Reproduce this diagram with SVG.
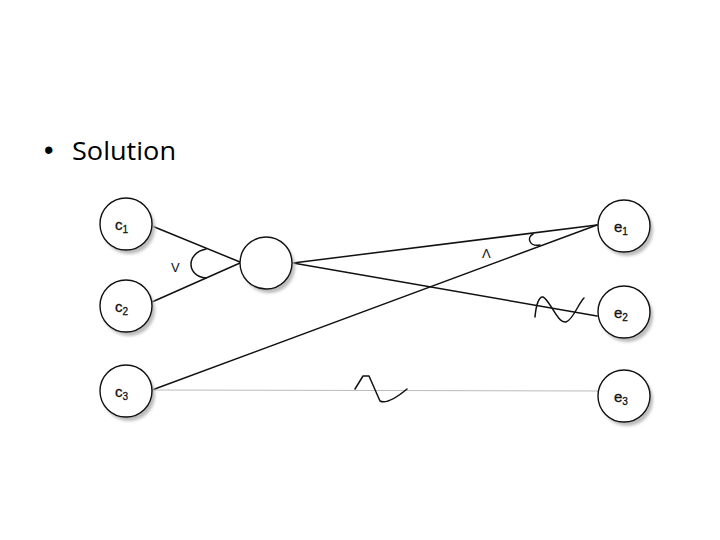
<svg xmlns="http://www.w3.org/2000/svg" width="720" height="540" viewBox="0 0 720 540">
<defs>
<filter id="sh" x="-30%" y="-30%" width="170%" height="170%"><feGaussianBlur stdDeviation="1.8"/></filter>
</defs>
<style>
.node{fill:#fff;stroke:#111;stroke-width:1.4}
.shadow{fill:#bbb;filter:url(#sh)}
.lbl{font-family:"Liberation Sans",Arial,sans-serif;font-size:15px;fill:#111;stroke:#111;stroke-width:0.3}
.sub{font-size:10px}
.ln{fill:none;stroke:#111;stroke-width:1.5;stroke-linecap:round;stroke-linejoin:round}
.thin{fill:none;stroke:#bbb;stroke-width:1}
.title{font-family:"Open Sans","Liberation Sans",Arial,sans-serif;font-size:26px;fill:#000}
.bullet{font-family:"Liberation Sans",Arial,sans-serif;font-size:27px;fill:#000}
</style>
<rect width="720" height="540" fill="#fff"/>
<text class="bullet" x="44" y="159">•</text>
<text class="title" x="72" y="160" textLength="104" lengthAdjust="spacingAndGlyphs">Solution</text>
<g id="connectors">
<line class="thin" x1="152" y1="390" x2="598" y2="391"/>
<path class="ln" d="M152,226 L240,262"/>
<path class="ln" d="M152,302 L240,263"/>
<path class="ln" d="M206,249 C186,253 186,276 206,278"/>
<path class="ln" d="M293,263 L597,225"/>
<path class="ln" d="M293,263 L597,316"/>
<path class="ln" d="M152,390 L597,225"/>
<path class="ln" d="M533,234 C526,238 530,247 540,245"/>
<path class="ln" d="M535,317 C536,305 539,296 543,297 C550,300 557,323 566,322 C573,320 578,304 584,298"/>
<path class="ln" d="M355,389 L363,376 L369,376 L380,401 C386,404 395,399 407,389"/>
</g>
<g id="c1"><circle class="shadow" cx="129" cy="228" r="26"/><circle class="node" cx="126" cy="224" r="26"/><text class="lbl" x="115" y="230">c<tspan class="sub" dy="3">1</tspan></text></g>
<g id="c2"><circle class="shadow" cx="129" cy="310" r="26"/><circle class="node" cx="126" cy="306" r="26"/><text class="lbl" x="115" y="312">c<tspan class="sub" dy="3">2</tspan></text></g>
<g id="c3"><circle class="shadow" cx="129" cy="395" r="26"/><circle class="node" cx="126" cy="391" r="26"/><text class="lbl" x="115" y="397">c<tspan class="sub" dy="3">3</tspan></text></g>
<g id="mid"><circle class="shadow" cx="269" cy="267" r="26"/><circle class="node" cx="266" cy="263" r="26"/></g>
<g id="e1"><circle class="shadow" cx="627" cy="230" r="26"/><circle class="node" cx="624" cy="226" r="26"/><text class="lbl" x="614" y="232">e<tspan class="sub" dy="3">1</tspan></text></g>
<g id="e2"><circle class="shadow" cx="627" cy="316" r="26"/><circle class="node" cx="624" cy="312" r="26"/><text class="lbl" x="614" y="318">e<tspan class="sub" dy="3">2</tspan></text></g>
<g id="e3"><circle class="shadow" cx="627" cy="400" r="26"/><circle class="node" cx="624" cy="396" r="26"/><text class="lbl" x="614" y="402">e<tspan class="sub" dy="3">3</tspan></text></g>
<g id="labels">
<text class="lbl" x="171" y="272" style="font-size:13px;stroke-width:0">V</text>
<text class="lbl" x="482" y="258" style="font-size:13px;stroke-width:0">Λ</text>
</g>
</svg>
